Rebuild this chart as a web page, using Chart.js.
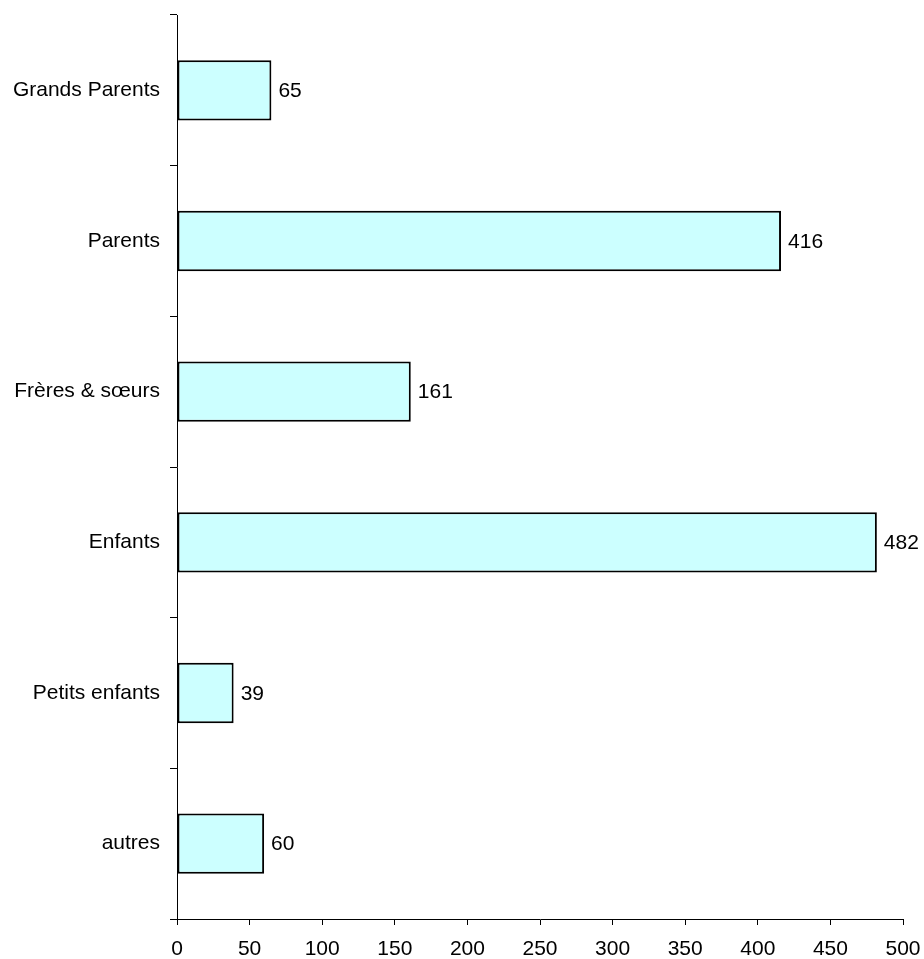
<!DOCTYPE html>
<html>
<head>
<meta charset="utf-8">
<script src="https://cdn.jsdelivr.net/npm/chart.js@4/dist/chart.umd.min.js"></script>
<style>
html,body{margin:0;padding:0;background:#fff;}
canvas{display:block;}
</style>
</head>
<body>
<canvas id="c" width="924" height="959"></canvas>
<script>
const categories = ["Grands Parents", "Parents", "Frères & sœurs", "Enfants", "Petits enfants", "autres"];
const values = [65, 416, 161, 482, 39, 60];
const xTicks = [0, 50, 100, 150, 200, 250, 300, 350, 400, 450, 500];

const FONT = '"Liberation Sans", Arial, sans-serif';

const valueLabels = {
  id: 'valueLabels',
  afterDatasetsDraw(chart) {
    const ctx = chart.ctx;
    const meta = chart.getDatasetMeta(0);
    ctx.save();
    ctx.font = '21px ' + FONT;
    ctx.fillStyle = '#000';
    ctx.textAlign = 'left';
    ctx.textBaseline = 'middle';
    meta.data.forEach((bar, i) => {
      ctx.fillText(String(values[i]), bar.x + 7, bar.y + 1);
    });
    ctx.restore();
  }
};

new Chart(document.getElementById('c'), {
  type: 'bar',
  data: {
    labels: categories,
    datasets: [{
      data: values,
      backgroundColor: '#CCFFFF',
      borderColor: '#000000',
      borderWidth: 2,
      borderSkipped: false,
      barPercentage: 0.4,
      categoryPercentage: 1.0
    }]
  },
  options: {
    indexAxis: 'y',
    responsive: false,
    animation: false,
    layout: { padding: { left: 0, right: 21, top: 15, bottom: 0 } },
    plugins: {
      legend: { display: false },
      tooltip: { enabled: false }
    },
    scales: {
      x: {
        min: 0,
        max: 500,
        afterBuildTicks(scale) { scale.ticks = xTicks.map(v => ({ value: v })); },
        afterFit(scale) { scale.height = 40; scale.paddingLeft = 0; scale.paddingRight = 0; },
        grid: {
          display: true,
          drawOnChartArea: false,
          drawTicks: true,
          tickLength: 6,
          color: '#000',
          lineWidth: 1
        },
        border: { display: true, color: '#000', width: 1 },
        ticks: {
          color: '#000',
          font: { family: FONT, size: 21 },
          padding: 12,
          maxRotation: 0,
          autoSkip: false
        }
      },
      y: {
        afterFit(scale) { scale.width = 177; scale.paddingTop = 0; scale.paddingBottom = 0; },
        grid: {
          display: true,
          offset: true,
          drawOnChartArea: false,
          drawTicks: true,
          tickLength: 7,
          color: '#000',
          lineWidth: 1
        },
        border: { display: true, color: '#000', width: 1 },
        ticks: {
          color: '#000',
          font: { family: FONT, size: 21 },
          padding: 10,
          autoSkip: false
        }
      }
    }
  },
  plugins: [valueLabels]
});
</script>
</body>
</html>
